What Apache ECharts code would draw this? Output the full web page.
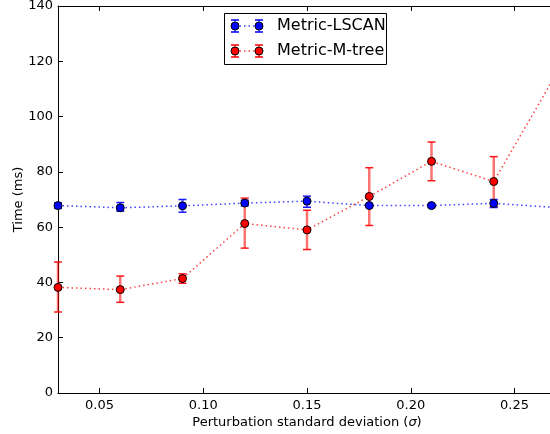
<!DOCTYPE html>
<html>
<head>
<meta charset="utf-8">
<title>Time vs perturbation</title>
<script src="https://cdn.jsdelivr.net/npm/echarts@6/dist/echarts.min.js"></script>
<style>
  html, body { margin: 0; padding: 0; background: #fff; }
  #main { width: 550px; height: 434px; }
</style>
</head>
<body>
<div id="main"></div>
<script>
// sigma values
var sigmas = [0.03, 0.06, 0.09, 0.12, 0.15, 0.18, 0.21, 0.24, 0.27];

// Metric-LSCAN
var lscanMean = [67.8, 67.0, 67.7, 68.7, 69.4, 67.8, 67.8, 68.6, 67.1];
var lscanLow  = [66.8, 65.8, 65.4, 67.7, 67.2, 67.3, 67.3, 67.1, 66.1];
var lscanHigh = [68.8, 68.9, 70.0, 69.7, 71.2, 68.3, 68.3, 70.0, 68.1];

// Metric-M-tree
var mtreeMean = [38.2, 37.4, 41.4, 61.3, 59.0, 71.1, 83.8, 76.5, 115.3];
var mtreeLow  = [29.3, 32.8, 39.7, 52.4, 51.9, 60.6, 76.8, 67.4, 105.0];
var mtreeHigh = [47.4, 42.3, 43.1, 70.5, 66.1, 81.5, 90.8, 85.5, 125.0];

var xTicks = [0.05, 0.10, 0.15, 0.20, 0.25];

var FONT = 'DejaVu Sans';

function zip2(a, b) {
  var out = [];
  for (var i = 0; i < a.length; i++) out.push([a[i], b[i]]);
  return out;
}
function zip3(a, b, c) {
  var out = [];
  for (var i = 0; i < a.length; i++) out.push([a[i], b[i], c[i]]);
  return out;
}

// error bars drawn through the axis scales
function errorBars(barColor, capColor) {
  return function (params, api) {
    var x = api.value(0);
    var lo = api.coord([x, api.value(1)]);
    var hi = api.coord([x, api.value(2)]);
    var w = 4;
    return {
      type: 'group',
      children: [
        { type: 'line', shape: { x1: lo[0], y1: lo[1], x2: hi[0], y2: hi[1] },
          style: { stroke: barColor, lineWidth: 2.5 } },
        { type: 'line', shape: { x1: lo[0] - w, y1: lo[1], x2: lo[0] + w, y2: lo[1] },
          style: { stroke: capColor, lineWidth: 1.5 } },
        { type: 'line', shape: { x1: hi[0] - w, y1: hi[1], x2: hi[0] + w, y2: hi[1] },
          style: { stroke: capColor, lineWidth: 1.5 } }
      ]
    };
  };
}

// legend entry drawn like matplotlib's two-point errorbar handle
function legendRow(y, color, barColor, lineColor, label) {
  var x1 = 235, x2 = 259;
  var kids = [
    { type: 'line', shape: { x1: x1, y1: y, x2: x2, y2: y },
      style: { stroke: lineColor, lineWidth: 1.5, lineDash: [1.5, 3] } }
  ];
  [x1, x2].forEach(function (x) {
    kids.push({ type: 'line', shape: { x1: x, y1: y - 6, x2: x, y2: y + 6 },
      style: { stroke: barColor, lineWidth: 2.5 } });
    kids.push({ type: 'line', shape: { x1: x - 4, y1: y - 6, x2: x + 4, y2: y - 6 },
      style: { stroke: color, lineWidth: 1.5 } });
    kids.push({ type: 'line', shape: { x1: x - 4, y1: y + 6, x2: x + 4, y2: y + 6 },
      style: { stroke: color, lineWidth: 1.5 } });
    kids.push({ type: 'circle', shape: { cx: x, cy: y, r: 4 },
      style: { fill: color, stroke: '#000', lineWidth: 1 } });
  });
  kids.push({ type: 'text', x: 277, y: y,
    style: { text: label, font: '16px "DejaVu Sans"', fill: '#000', verticalAlign: 'middle' } });
  return kids;
}

var myChart = echarts.init(document.getElementById('main'));

var option = {
  backgroundColor: '#fff',
  animation: false,
  textStyle: { fontFamily: FONT },
  grid: { left: 58, top: 6, width: 498, height: 387, outerBoundsMode: 'none', containLabel: false },
  xAxis: [{
    type: 'value',
    min: 0.03,
    max: 0.27,
    position: 'bottom',
    name: 'Perturbation standard deviation ({i|σ})',
    nameLocation: 'middle',
    nameGap: 23,
    nameMoveOverlap: false,
    nameTextStyle: {
      fontFamily: FONT, fontSize: 13, color: '#000',
      rich: { i: { fontFamily: FONT, fontSize: 13, fontStyle: 'italic', color: '#000' } }
    },
    axisLine: { show: true, lineStyle: { color: '#000', width: 1 } },
    axisTick: { show: true, inside: true, length: 5, customValues: xTicks,
      lineStyle: { color: '#000', width: 1 } },
    axisLabel: { show: true, customValues: xTicks, margin: 6,
      fontFamily: FONT, fontSize: 13, color: '#000',
      formatter: function (v) { return v.toFixed(2); } },
    splitLine: { show: false }
  }, {
    type: 'value',
    min: 0.03,
    max: 0.27,
    position: 'top',
    axisLine: { show: true, onZero: false, lineStyle: { color: '#000', width: 1 } },
    axisTick: { show: true, inside: true, length: 5, customValues: xTicks,
      lineStyle: { color: '#000', width: 1 } },
    axisLabel: { show: false },
    splitLine: { show: false }
  }],
  yAxis: [{
    type: 'value',
    min: 0,
    max: 140,
    interval: 20,
    name: 'Time (ms)',
    nameLocation: 'middle',
    nameGap: 33,
    nameMoveOverlap: false,
    nameTextStyle: { fontFamily: FONT, fontSize: 13, color: '#000' },
    axisLine: { show: true, lineStyle: { color: '#000', width: 1 } },
    axisTick: { show: true, inside: true, length: 5, lineStyle: { color: '#000', width: 1 } },
    axisLabel: { fontFamily: FONT, fontSize: 13, color: '#000', margin: 5 },
    splitLine: { show: false }
  }],
  series: [
    {
      name: 'Metric-M-tree err',
      type: 'custom',
      renderItem: errorBars('rgba(255,0,0,0.55)', 'rgba(255,0,0,0.9)'),
      data: zip3(sigmas, mtreeLow, mtreeHigh),
      encode: { x: 0, y: [1, 2] },
      z: 1
    },
    {
      name: 'Metric-M-tree',
      type: 'line',
      data: zip2(sigmas, mtreeMean),
      symbol: 'circle',
      symbolSize: 8,
      itemStyle: { color: '#ff0000', borderColor: '#000', borderWidth: 1 },
      lineStyle: { color: 'rgba(255,0,0,0.75)', width: 1.5, type: [1.5, 3] },
      z: 2
    },
    {
      name: 'Metric-LSCAN err',
      type: 'custom',
      renderItem: errorBars('rgba(0,0,255,0.5)', 'rgba(0,0,255,0.9)'),
      data: zip3(sigmas, lscanLow, lscanHigh),
      encode: { x: 0, y: [1, 2] },
      z: 3
    },
    {
      name: 'Metric-LSCAN',
      type: 'line',
      data: zip2(sigmas, lscanMean),
      symbol: 'circle',
      symbolSize: 8,
      itemStyle: { color: '#0000ff', borderColor: '#000', borderWidth: 1 },
      lineStyle: { color: 'rgba(0,0,255,0.75)', width: 1.5, type: [1.5, 3] },
      z: 4
    }
  ],
  graphic: [{
    type: 'group',
    z: 100,
    children: [
      { type: 'rect', shape: { x: 224.5, y: 13.5, width: 162, height: 51 },
        style: { fill: '#fff', stroke: '#000', lineWidth: 1 } }
    ].concat(
      legendRow(26, '#0000ff', 'rgba(0,0,255,0.5)', 'rgba(0,0,255,0.75)', 'Metric-LSCAN'),
      legendRow(51, '#ff0000', 'rgba(255,0,0,0.55)', 'rgba(255,0,0,0.75)', 'Metric-M-tree')
    )
  }]
};

myChart.setOption(option);
</script>
</body>
</html>
